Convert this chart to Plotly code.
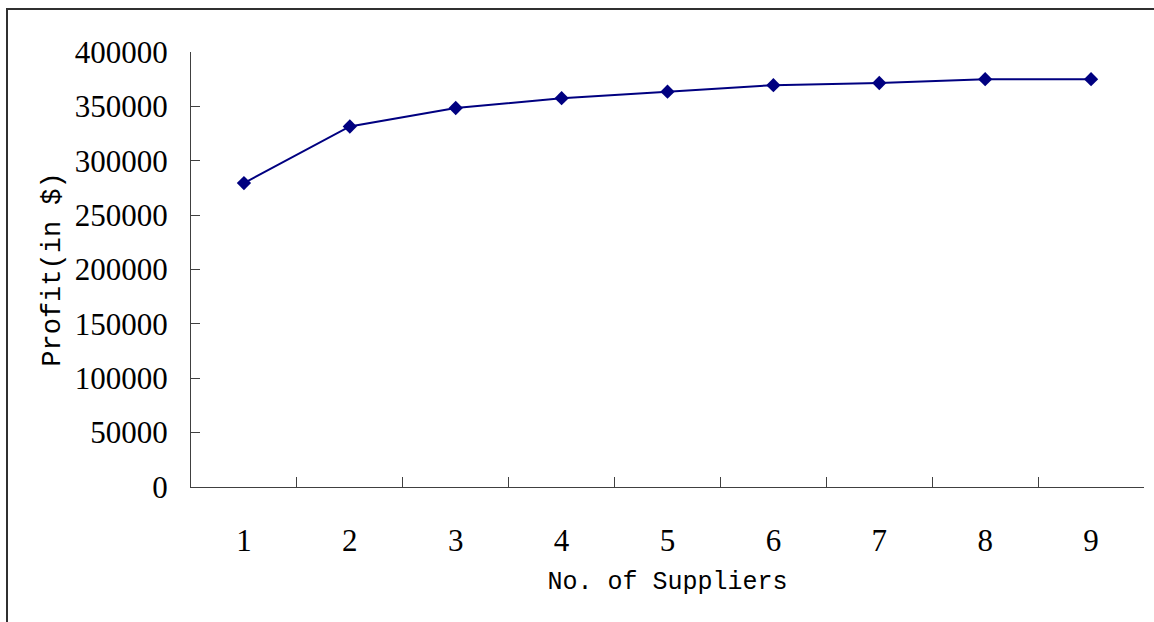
import plotly.graph_objects as go

# Number of suppliers (category labels) and resulting profit
suppliers = ["1", "2", "3", "4", "5", "6", "7", "8", "9"]
profit = [279500, 331500, 348500, 357500, 363500, 369500, 371500, 375000, 375000]
y_ticks = [0, 50000, 100000, 150000, 200000, 250000, 300000, 350000, 400000]

W, H = 1154, 622
L, R, T, B = 191, 10, 52, 135
plot_w = W - L - R
plot_h = H - T - B

fig = go.Figure()
fig.add_trace(go.Scatter(
    x=suppliers, y=profit, mode="lines+markers",
    line=dict(color="#000080", width=2),
    marker=dict(symbol="diamond", size=11, color="#000080"),
    showlegend=False, cliponaxis=False,
))

tick_font = dict(family="Liberation Serif", size=31, color="#000000")

fig.update_xaxes(
    type="category", range=[-0.5, 8.5],
    showline=True, linecolor="#404040", linewidth=1,
    ticks="inside", tickson="boundaries", ticklen=10, tickcolor="#404040",
    showgrid=False, zeroline=False,
    tickfont=tick_font, ticklabelstandoff=26,
    title=dict(text="No. of Suppliers",
               font=dict(family="Liberation Mono", size=25, color="#000000"),
               standoff=14),
)
fig.update_yaxes(
    range=[0, 400000], tickvals=y_ticks, ticktext=[str(v) for v in y_ticks],
    showline=True, linecolor="#404040", linewidth=1,
    ticks="inside", ticklen=9, tickcolor="#404040",
    showgrid=False, zeroline=False,
    tickfont=tick_font, ticklabelstandoff=16,
    title=dict(text="Profit(in $)",
               font=dict(family="Liberation Mono", size=27, color="#000000"),
               standoff=6),
)

# Outer chart frame (left and top edges visible, the rest runs off the page)
fx0 = (7 - L) / plot_w
fy1 = (H - B - 9) / plot_h
fig.add_shape(type="rect", xref="paper", yref="paper",
              x0=fx0, x1=1.2, y0=-0.6, y1=fy1,
              line=dict(color="#303030", width=2), layer="below")

fig.update_layout(
    width=W, height=H,
    margin=dict(l=L, r=R, t=T, b=B),
    paper_bgcolor="white", plot_bgcolor="white",
)

fig.write_html("out.html")
